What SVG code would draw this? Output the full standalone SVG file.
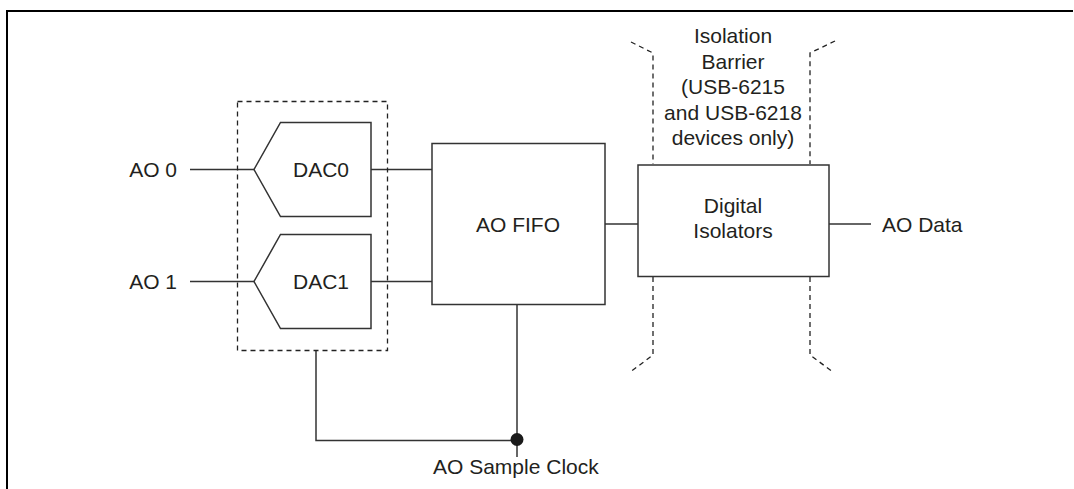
<svg xmlns="http://www.w3.org/2000/svg" width="1074" height="489" viewBox="0 0 1074 489">
<style>
.ln{fill:none;stroke:#333;stroke-width:1.5}
.box{fill:#fff;stroke:#333;stroke-width:1.5}
.dash{fill:none;stroke:#222;stroke-width:1.3;stroke-dasharray:5,4}
text{font-family:"Liberation Sans",Arial,sans-serif;font-size:21px;fill:#231f20}
.c{text-anchor:middle}
</style>
<rect width="1074" height="489" fill="#fff"/>
<path d="M7,489 V11 H1073" fill="none" stroke="#000" stroke-width="2"/>
<g id="connectors">
<line class="ln" x1="190" y1="169.5" x2="254" y2="169.5"/>
<line class="ln" x1="190" y1="281.5" x2="254" y2="281.5"/>
<line class="ln" x1="371" y1="169.5" x2="432" y2="169.5"/>
<line class="ln" x1="371" y1="281.5" x2="432" y2="281.5"/>
<line class="ln" x1="605" y1="224" x2="638" y2="224"/>
<line class="ln" x1="829" y1="224" x2="871" y2="224"/>
<path class="ln" d="M316,351 V440.5 H517"/>
<line class="ln" x1="517" y1="304" x2="517" y2="457"/>
<circle cx="517" cy="439.5" r="6.5" fill="#1a1a1a"/>
</g>
<g id="dac-group">
<rect class="dash" x="237.5" y="101.5" width="150" height="249"/>
</g>
<g id="dac0">
<path class="box" d="M280.5,122.5 H371 V216.5 H280.5 L254,169.5 Z"/>
<text class="c" x="321" y="176.5">DAC0</text>
</g>
<g id="dac1">
<path class="box" d="M280.5,234.5 H371 V328.5 H280.5 L254,281.5 Z"/>
<text class="c" x="321" y="288.5">DAC1</text>
</g>
<g id="ao0"><text x="177" y="176.5" text-anchor="end">AO 0</text></g>
<g id="ao1"><text x="177" y="288.5" text-anchor="end">AO 1</text></g>
<g id="fifo">
<rect class="box" x="432" y="143.5" width="173" height="161"/>
<text class="c" x="518" y="231.5">AO FIFO</text>
</g>
<g id="barrier">
<path class="dash" d="M631,42 L653,53 V164"/>
<path class="dash" d="M653,277 V355 L629,373"/>
<path class="dash" d="M835,41 L810,53 V164"/>
<path class="dash" d="M810,277 V355 L833,372"/>
<text class="c" x="733" y="43">Isolation</text>
<text class="c" x="733" y="69">Barrier</text>
<text class="c" x="733" y="94">(USB-6215</text>
<text class="c" x="733" y="120">and USB-6218</text>
<text class="c" x="733" y="145">devices only)</text>
</g>
<g id="isolators">
<rect class="box" x="638" y="165" width="191" height="111.5"/>
<text class="c" x="733" y="213">Digital</text>
<text class="c" x="733" y="237.5">Isolators</text>
</g>
<g id="aodata"><text x="882" y="231.5">AO Data</text></g>
<g id="clock"><text x="433" y="474">AO Sample Clock</text></g>
</svg>
